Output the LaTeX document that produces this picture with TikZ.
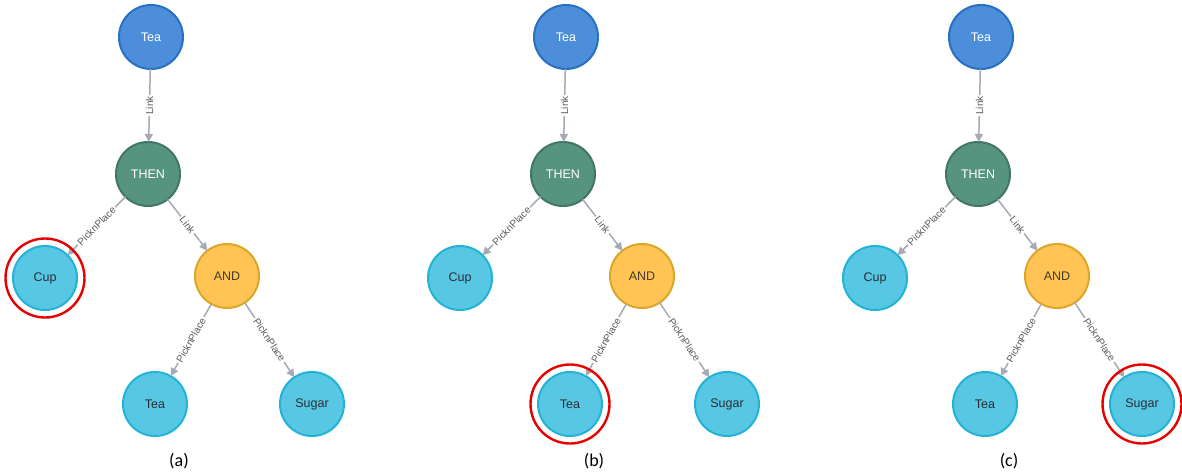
\documentclass[tikz,border=0pt]{standalone}
\usepackage{fontspec}
\setmainfont{Liberation Sans}
\newfontfamily\capfont{Carlito}
\usetikzlibrary{arrows.meta}
\definecolor{blueF}{HTML}{4C8EDA}\definecolor{blueD}{HTML}{2870C2}
\definecolor{greenF}{HTML}{569480}\definecolor{greenD}{HTML}{447666}
\definecolor{yelF}{HTML}{FFC454}\definecolor{yelD}{HTML}{DCA62A}
\definecolor{cyanF}{HTML}{57C7E3}\definecolor{cyanD}{HTML}{23B3D7}
\definecolor{edgeC}{HTML}{A5ABB6}\definecolor{labC}{HTML}{5A5A5A}
\definecolor{ringC}{HTML}{E60000}
\begin{document}
\begin{tikzpicture}[x=1pt,y=-1pt,
  gnode/.style={circle,minimum size=64pt,inner sep=0pt,outer sep=0pt,line width=2pt,font=\fontsize{12.5}{14}\selectfont},
  bluen/.style={gnode,fill=blueF,draw=blueD,text=white},
  greenn/.style={gnode,fill=greenF,draw=greenD,text=white},
  yeln/.style={gnode,fill=yelF,draw=yelD,text={rgb,255:red,70;green,60;blue,40}},
  cyann/.style={gnode,fill=cyanF,draw=cyanD,text={rgb,255:red,42;green,44;blue,52}},
  edge/.style={draw=edgeC,line width=1.5pt,-{Triangle[length=8pt,width=8pt]},fill=edgeC},
  elabel/.style={fill=white,inner sep=1.5pt,text=labC,font=\fontsize{10}{11}\selectfont},
  ring/.style={draw=ringC,line width=2.4pt},
  caption/.style={font=\capfont\fontsize{18}{20}\selectfont,text=black}]
\useasboundingbox (0,0) rectangle (1182,476);
\foreach \p/\dx in {a/0,b/415,c/830}{
  \node[bluen]  (\p-tea)   at (151+\dx,37)  {Tea};
  \node[greenn] (\p-then)  at (148+\dx,174) {THEN};
  \node[cyann]  (\p-cup)   at (45+\dx,278)  {Cup};
  \node[yeln]   (\p-and)   at (227+\dx,276) {AND};
  \node[cyann]  (\p-tea2)  at (155+\dx,404) {Tea};
  \node[cyann]  (\p-sugar) at (312+\dx,404) {Sugar};
  \draw[edge] (\p-tea) -- node[elabel,rotate=90] {Link} (\p-then);
  \draw[edge] (\p-then) -- node[elabel,sloped] {PicknPlace} (\p-cup);
  \draw[edge] (\p-then) -- node[elabel,sloped] {Link} (\p-and);
  \draw[edge] (\p-and) -- node[elabel,sloped] {PicknPlace} (\p-tea2);
  \draw[edge] (\p-and) -- node[elabel,sloped] {PicknPlace} (\p-sugar);
  \node[caption] (\p-cap) at (179+\dx,461) {(\p)};
}
\draw[ring] (a-cup) circle (39.5pt);
\draw[ring] (b-tea2) circle (39.5pt);
\draw[ring] (c-sugar) circle (39.5pt);
\end{tikzpicture}
\end{document}
